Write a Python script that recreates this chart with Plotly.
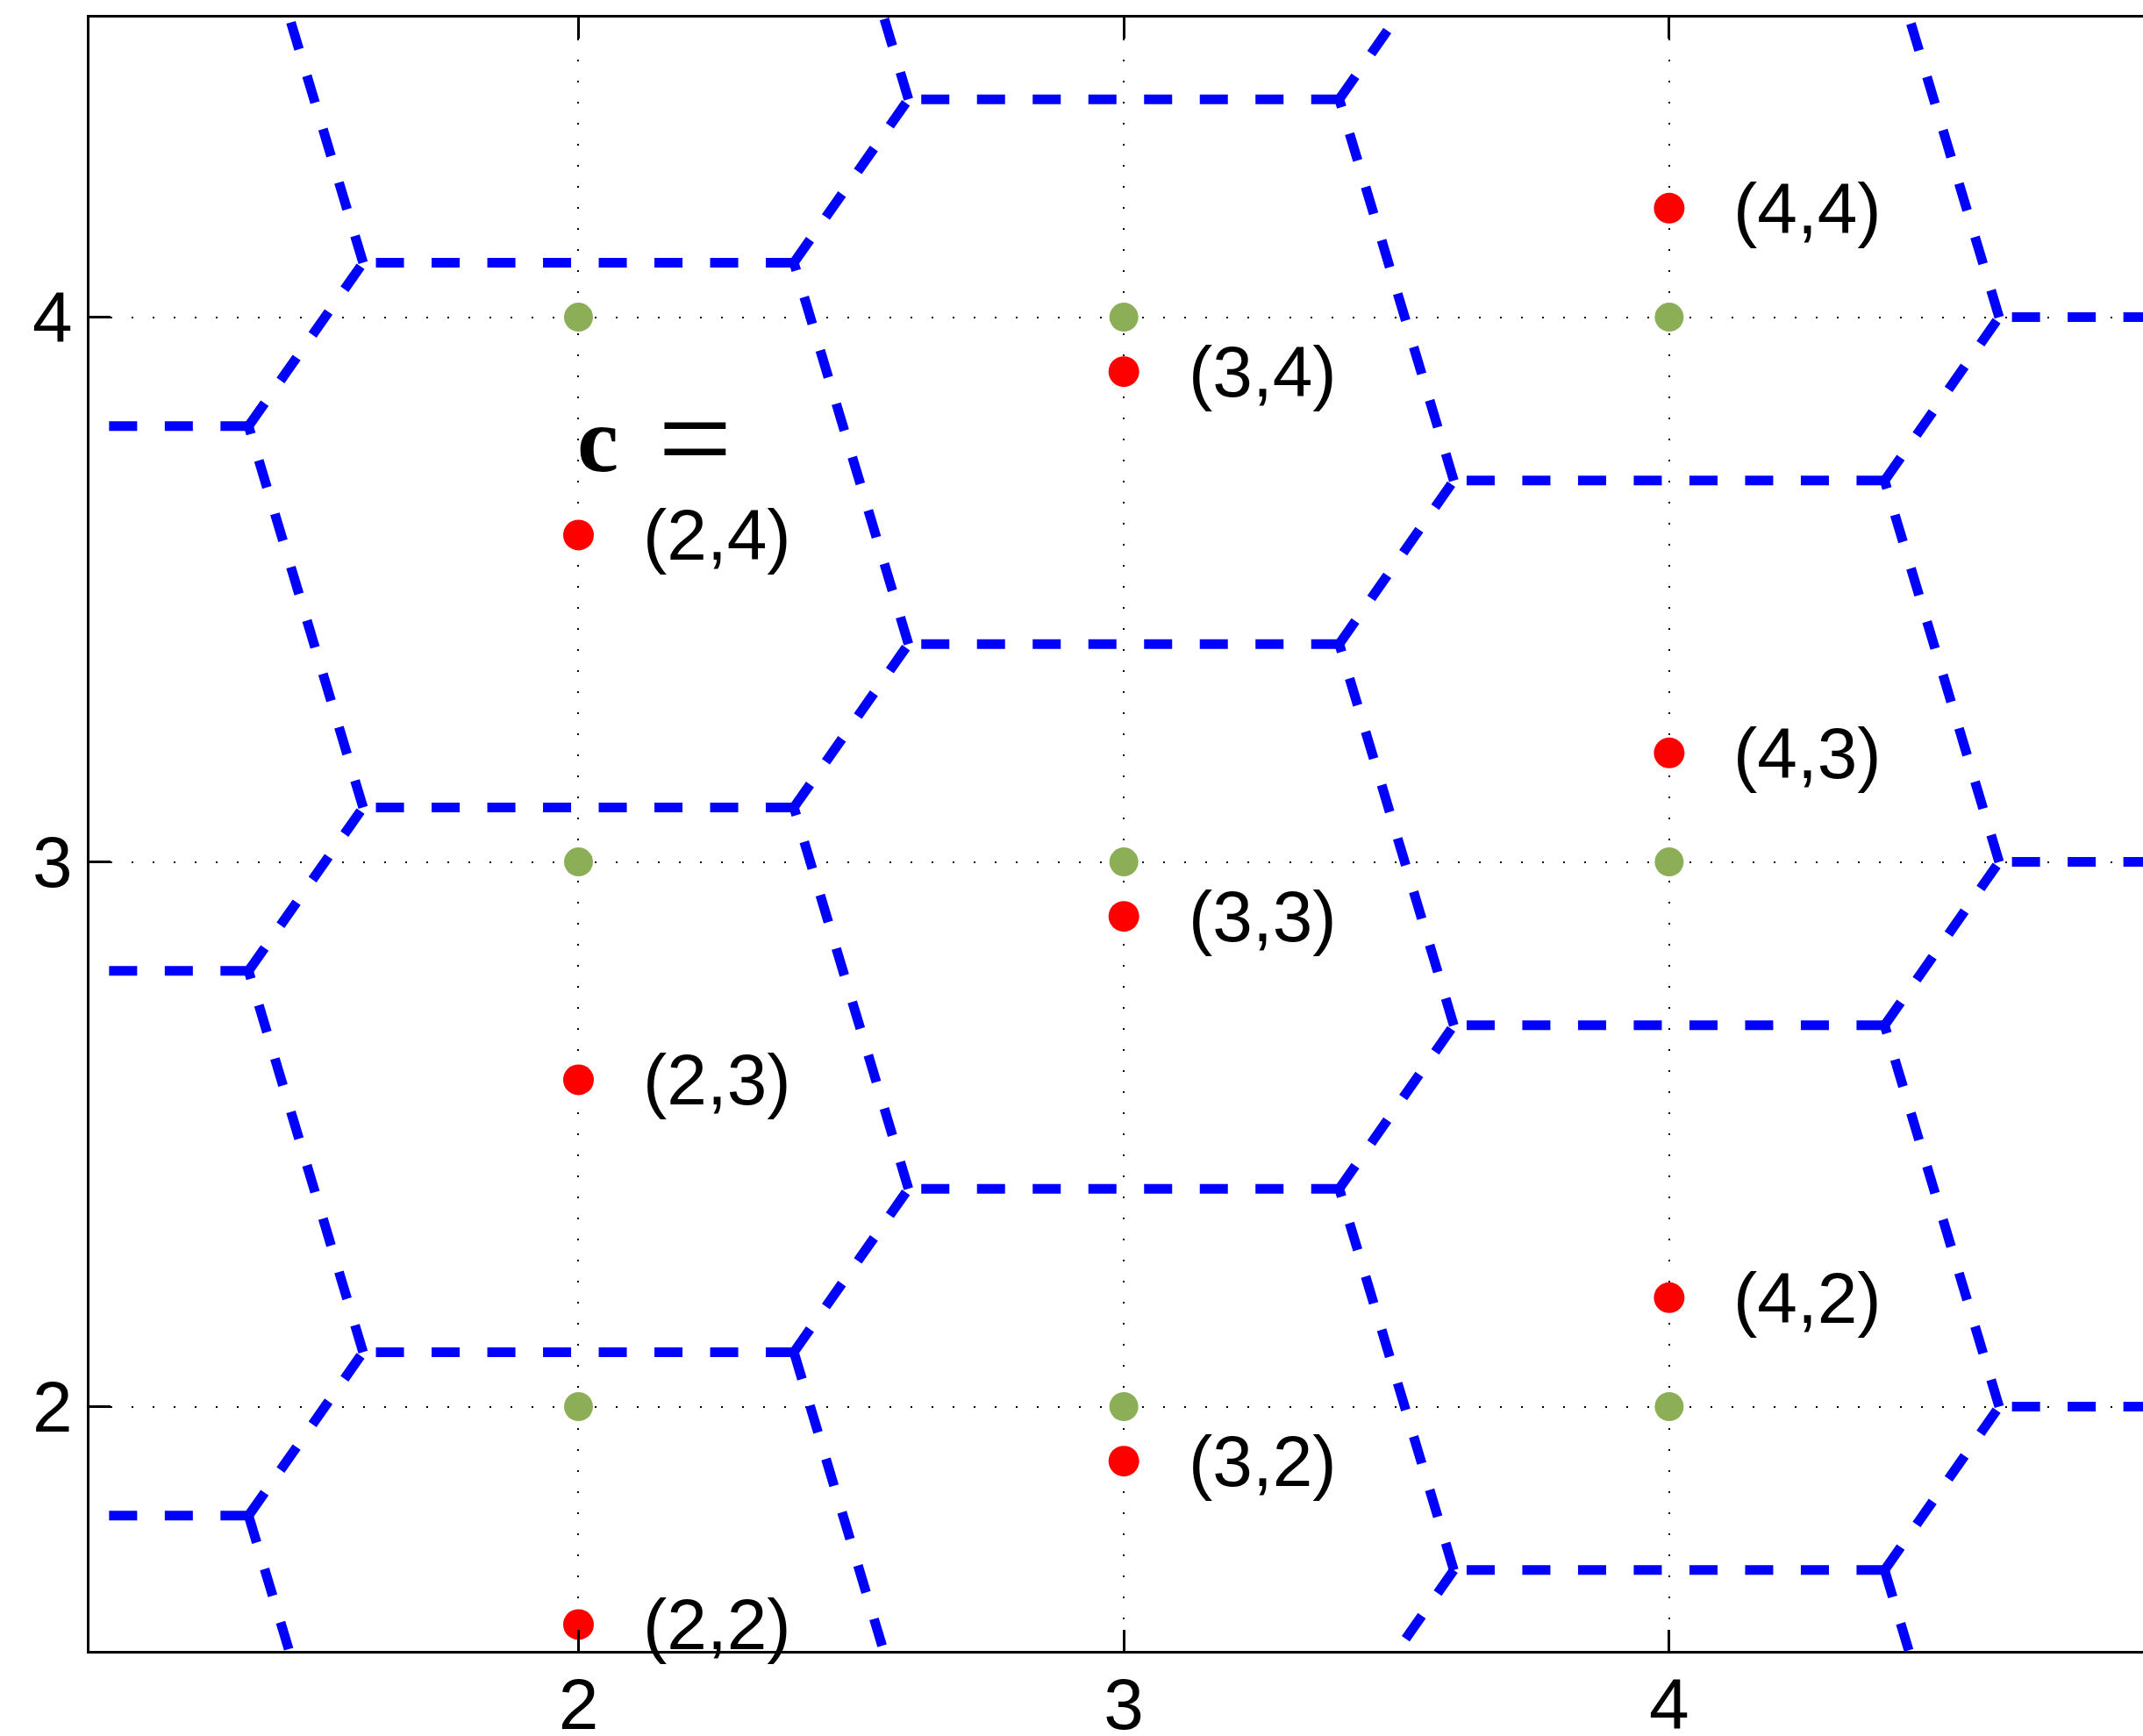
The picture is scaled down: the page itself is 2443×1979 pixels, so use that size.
import numpy as np
import plotly.graph_objects as go

# Integer grid points (green)
grid_x = [2, 2, 2, 3, 3, 3, 4, 4, 4]
grid_y = [2, 3, 4, 2, 3, 4, 2, 3, 4]

# Codewords (red) with their index labels
code_x = [2, 2, 2, 3, 3, 3, 4, 4, 4]
code_y = [1.6, 2.6, 3.6, 1.9, 2.9, 3.9, 2.2, 3.2, 4.2]
code_labels = ["(2,2)", "(2,3)", "(2,4)",
               "(3,2)", "(3,3)", "(3,4)",
               "(4,2)", "(4,3)", "(4,4)"]

# Generators of the Voronoi diagram: the codeword lattice, extended by the
# columns and rows that lie just outside the visible window
gen_cols = [0, 1, 2, 3, 4, 5, 6]
gen_col_shift = [-1.0, -0.7, -0.4, -0.1, 0.2, 0.5, 0.8]
gen_rows = [0, 1, 2, 3, 4, 5, 6]

X_RANGE = [1.1033, 4.8688]
Y_RANGE = [1.5516, 4.5500]


def clip_halfplane(poly, a, b):
    """Keep the part of a convex polygon with a . p <= b."""
    out = []
    n = len(poly)
    for k in range(n):
        p, q = poly[k], poly[(k + 1) % n]
        fp, fq = a @ p - b, a @ q - b
        if fp <= 0:
            out.append(p)
        if fp * fq < 0:
            t = fp / (fp - fq)
            out.append(p + t * (q - p))
    return out


def inside_view(p):
    return X_RANGE[0] <= p[0] <= X_RANGE[1] and Y_RANGE[0] <= p[1] <= Y_RANGE[1]


gens = {}
for ci, cx in enumerate(gen_cols):
    for r in gen_rows:
        gens[(ci, r)] = np.array([cx, r + gen_col_shift[ci]], dtype=float)

edges = {}
for (ci, r), s in gens.items():
    # only interior generators have complete neighbourhoods
    if ci in (0, len(gen_cols) - 1) or r in (gen_rows[0], gen_rows[-1]):
        continue
    poly = [s + np.array(d) for d in [(-3, -3), (3, -3), (3, 3), (-3, 3)]]
    for key, t in gens.items():
        if key == (ci, r):
            continue
        a = 2 * (t - s)
        b = t @ t - s @ s
        poly = clip_halfplane(poly, a, b)
    for k in range(len(poly)):
        p, q = poly[k], poly[(k + 1) % len(poly)]
        if np.hypot(*(q - p)) < 1e-6:
            continue
        kp = (round(p[0], 6), round(p[1], 6))
        kq = (round(q[0], 6), round(q[1], 6))
        edges[tuple(sorted([kp, kq]))] = (p, q)

ex, ey = [], []
for p, q in edges.values():
    if abs(p[1] - q[1]) < 1e-9:
        # horizontal edges are traced right-to-left
        start, end = (p, q) if p[0] > q[0] else (q, p)
    elif inside_view(p) != inside_view(q):
        # edges leaving the window start from their visible vertex
        start, end = (p, q) if inside_view(p) else (q, p)
    else:
        start, end = (p, q) if p[1] < q[1] else (q, p)
    ex += [start[0], end[0], None]
    ey += [start[1], end[1], None]

fig = go.Figure()

fig.add_trace(go.Scatter(
    x=ex, y=ey, mode="lines",
    line=dict(color="#0000FF", width=11, dash="32px,31.5px"),
    hoverinfo="skip", showlegend=False,
))
fig.add_trace(go.Scatter(
    x=grid_x, y=grid_y, mode="markers",
    marker=dict(color="#8BAE57", size=33, line=dict(width=0)),
    showlegend=False,
))
fig.add_trace(go.Scatter(
    x=code_x, y=code_y, mode="markers",
    marker=dict(color="#FF0000", size=35, line=dict(width=0)),
    showlegend=False,
))

label_font = dict(family="Liberation Sans, Arial, Helvetica, sans-serif",
                  size=82, color="black")
for x, y, txt in zip(code_x, code_y, code_labels):
    fig.add_annotation(x=x + 0.115, y=y, text=txt, showarrow=False,
                       xanchor="left", yanchor="middle", font=label_font,
                       xref="x", yref="y")

# "c =" caption: bold c followed by a wide equals sign
serif = "Liberation Serif, DejaVu Serif, serif"
fig.add_annotation(x=1.994, y=3.775, text="<b>c</b>", showarrow=False,
                   xanchor="left", yanchor="middle",
                   font=dict(family=serif, size=106, color="black"),
                   xref="x", yref="y")
fig.add_annotation(x=2.2147, y=3.779, text="=", showarrow=False,
                   xanchor="center", yanchor="middle", height=100,
                   valign="middle",
                   font=dict(family=serif, size=150, color="black"),
                   xref="x", yref="y")

axis_common = dict(
    showgrid=True, gridcolor="black", gridwidth=2, griddash="2px,22px",
    zeroline=False, showline=True, linecolor="black", linewidth=3,
    ticks="inside", ticklen=24, tickwidth=2.5, tickcolor="black",
    tickfont=label_font, tickvals=[2, 3, 4], ticktext=["2", "3", "4"],
    automargin=False,
)

fig.update_xaxes(range=X_RANGE, mirror="ticks", ticklabelstandoff=-12,
                 **axis_common)
fig.update_yaxes(range=Y_RANGE, mirror=False, **axis_common)

fig.update_layout(
    width=2443, height=1979,
    margin=dict(l=102, r=0, t=20, b=97, pad=0),
    plot_bgcolor="white", paper_bgcolor="white",
    showlegend=False,
)

fig.write_html("out.html")
